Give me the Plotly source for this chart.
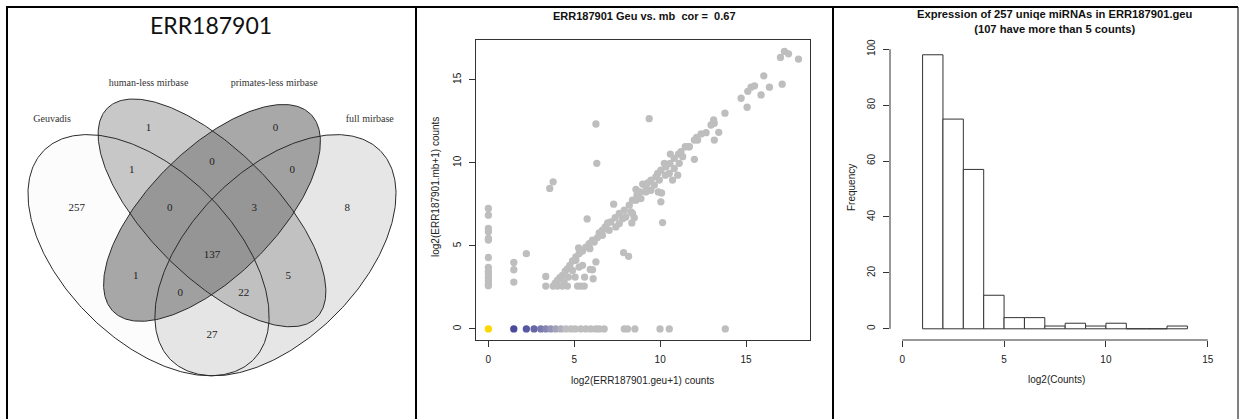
import numpy as np
import plotly.graph_objects as go

W, H = 1239, 419

# ---------------- data ----------------
venn_title = "ERR187901"
venn_sets = ["Geuvadis", "human-less mirbase", "primates-less mirbase", "full mirbase"]
# region counts in VennDiagram quad-layout order
venn_counts = [1, 0, 0, 1, 0, 137, 3, 0, 257, 1, 0, 27, 22, 5, 8]

scatter_title = "ERR187901 Geu vs. mb  cor =  0.67"
geu = [0, 0, 0, 0, 0, 0, 0, 0, 0, 0, 0, 0, 0, 0,
       1.48, 1.48, 1.48, 2.21,
       3.34, 3.34, 3.77, 4.02, 4.31, 4.60, 5.19, 5.38, 5.58,
       3.57, 3.77, 6.26, 6.31, 9.36, 5.75, 7.29, 7.87, 8.16, 6.06, 6.26, 5.60, 5.93, 6.10,
       10.14, 10.04, 9.89, 10.08, 8.49, 8.59, 8.39, 8.35, 10.72, 11.02, 11.99, 13.15, 13.41,
       13.77, 14.71, 15.06, 15.10, 15.29, 15.49, 16.03, 15.87, 16.36, 17.00, 17.23, 17.47,
       18.05, 17.10,
       13.15, 13.11, 12.96, 12.67, 12.38, 12.18, 12.12, 11.64, 11.46, 11.21, 11.07, 10.59,
       10.82, 10.57, 10.24, 10.34, 10.04, 9.85, 9.75, 9.46, 9.27, 8.98, 9.17, 8.82, 8.65,
       8.39, 8.20, 7.91, 7.62, 7.38, 7.13, 6.94, 6.80, 6.64, 6.45, 6.35, 6.06, 5.87, 5.67,
       5.48, 5.28, 5.25, 5.09, 4.90, 4.74, 4.60, 4.47, 4.31, 4.16, 4.02, 3.89,
       5.09, 4.90, 5.05, 5.28, 5.48, 4.66, 4.41, 5.91, 6.16, 6.64, 7.03, 7.42, 7.62, 7.81,
       8.00, 8.30, 8.59, 8.88, 9.17, 9.46, 9.66, 9.95, 10.30, 10.53, 10.82, 11.11, 11.31,
       11.70, 11.99]
mb = [7.25, 6.85, 6.05, 5.85, 5.45, 5.35, 4.30, 3.70, 3.45, 3.30, 3.10, 2.90, 2.70, 2.60,
      4.00, 3.56, 2.82, 4.53,
      3.16, 2.58, 2.58, 2.58, 2.58, 2.58, 2.58, 2.58, 2.58,
      8.46, 8.86, 12.34, 9.97, 12.66, 6.62, 7.51, 4.59, 4.37, 3.56, 4.03, 3.12, 3.58, 3.02,
      6.40, 7.65, 8.25, 8.19, 6.70, 8.40, 6.95, 6.38, 8.96, 9.26, 10.21, 11.37, 11.84,
      12.99, 13.89, 13.35, 14.31, 14.56, 14.64, 15.24, 14.09, 14.56, 16.35, 16.71, 16.57,
      16.25, 14.74,
      12.38, 12.58, 12.28, 11.82, 11.74, 11.37, 11.54, 10.97, 10.97, 10.67, 10.53, 10.53,
      10.27, 9.97, 9.97, 9.76, 9.56, 9.36, 9.16, 8.96, 8.80, 8.72, 8.56, 8.25, 8.05,
      7.75, 7.45, 7.15, 6.95, 6.70, 6.44, 6.38, 6.14, 5.94, 5.78, 5.50, 5.34, 5.13, 4.93,
      4.69, 4.53, 4.87, 4.33, 4.09, 3.83, 3.62, 3.48, 3.22, 3.08, 2.92, 2.76,
      4.13, 3.52, 3.12, 3.72, 3.83, 3.12, 2.82, 4.83, 5.23, 5.64, 5.94, 6.14, 6.34, 6.64,
      6.74, 7.05, 7.75, 7.85, 8.25, 8.35, 8.66, 8.96, 9.26, 9.36, 9.66, 9.97, 10.37,
      10.97, 11.37]
# points with no mb counts (drawn last, with their own colours)
geu_zero = [0, 1.48, 2.21, 2.66, 3.05, 3.34, 3.63, 3.92, 4.22, 4.51, 4.80, 5.05, 5.38,
            5.67, 5.96, 6.26, 6.45, 6.74, 7.91, 8.10, 8.53, 9.99, 10.53, 13.79]
mb_zero = [0, 0, 0, 0, 0, 0, 0, 0, 0, 0, 0, 0, 0, 0, 0, 0, 0, 0, 0, 0, 0, 0, 0, 0]
zero_colors = ["#FFD700", "#4B4B9B", "#5858A2", "#6767A8", "#7878AE", "#8686B2",
               "#9494B6", "#A2A2BA", "#AEAEBC"] + ["#BEBEBE"] * 15
axis_ticks = [0, 5, 10, 15]

hist_title = "Expression of 257 uniqe miRNAs in ERR187901.geu<br>(107 have more than 5 counts)"
hist_breaks = [1, 2, 3, 4, 5, 6, 7, 8, 9, 10, 11, 12, 13, 14]
hist_counts = [98, 75, 57, 12, 4, 4, 1, 2, 1, 2, 0, 0, 1]
hist_yticks = [0, 20, 40, 60, 80, 100]

# ---------------- helpers ----------------
def px(x):
    return x / W

def py(y):
    return 1 - y / H

fig = go.Figure()

# ---------------- Venn panel ----------------
# VennDiagram unit square -> pixels: X = 212 + (u-0.5)*423, Y = 454 - 423*v
S, CX, CY = 423.0, 212.0, 454.0
venn_xr = [0.5 - CX / S, 0.5 + (416 - CX) / S]
venn_yr = [(CY - H) / S, CY / S]

ellipses = [  # cx, cy, a, b, rotation(deg), gray, alpha
    (0.35, 0.47, 0.35, 0.20, 135, 251, 0.7),   # Geuvadis
    (0.65, 0.47, 0.35, 0.20, 45, 219, 0.7),    # full mirbase
    (0.50, 0.57, 0.35, 0.15, 135, 176, 0.7),   # human-less
    (0.50, 0.57, 0.33, 0.15, 45, 131, 0.7),    # primates-less
]
t = np.linspace(0, 2 * np.pi, 361)
outlines = []
for cx, cy, a, b, rot, g, al in ellipses:
    th = np.deg2rad(rot)
    ex = cx + a * np.cos(t) * np.cos(th) - b * np.sin(t) * np.sin(th)
    ey = cy + a * np.cos(t) * np.sin(th) + b * np.sin(t) * np.cos(th)
    outlines.append((ex, ey))
    fig.add_trace(go.Scatter(x=ex, y=ey, mode="lines", fill="toself",
                             fillcolor=f"rgba({g},{g},{g},{al})",
                             line=dict(width=0), hoverinfo="skip",
                             xaxis="x", yaxis="y", showlegend=False))
for ex, ey in outlines:
    fig.add_trace(go.Scatter(x=ex, y=ey, mode="lines",
                             line=dict(color="#2a2a2a", width=1), hoverinfo="skip",
                             xaxis="x", yaxis="y", showlegend=False))

label_pos = [(0.350, 0.77), (0.500, 0.69), (0.650, 0.77), (0.310, 0.67), (0.400, 0.58),
             (0.500, 0.47), (0.600, 0.58), (0.690, 0.67), (0.180, 0.58), (0.320, 0.42),
             (0.425, 0.38), (0.500, 0.28), (0.575, 0.38), (0.680, 0.42), (0.820, 0.58)]
fig.add_trace(go.Scatter(x=[p[0] for p in label_pos], y=[p[1] for p in label_pos],
                         mode="text", text=[str(c) for c in venn_counts],
                         textfont=dict(family="Liberation Serif", size=11, color="#222"),
                         xaxis="x", yaxis="y", showlegend=False, hoverinfo="skip"))
cat_pos = [(0.122, 0.79), (0.350, 0.877), (0.647, 0.877), (0.873, 0.79)]
fig.add_trace(go.Scatter(x=[p[0] for p in cat_pos], y=[p[1] for p in cat_pos],
                         mode="text", text=venn_sets,
                         textfont=dict(family="Liberation Serif", size=10, color="#333"),
                         xaxis="x", yaxis="y", showlegend=False, hoverinfo="skip"))

# ---------------- Scatter panel ----------------
fig.add_trace(go.Scatter(x=geu, y=mb, mode="markers",
                         marker=dict(size=7.3, color="#BEBEBE", line=dict(width=0)),
                         xaxis="x2", yaxis="y2", showlegend=False))
fig.add_trace(go.Scatter(x=geu_zero, y=mb_zero, mode="markers",
                         marker=dict(size=7.3, color=zero_colors, line=dict(width=0)),
                         xaxis="x2", yaxis="y2", showlegend=False))

# ---------------- Histogram panel ----------------
fig.add_trace(go.Bar(x=hist_breaks[:-1], y=hist_counts, width=1, offset=0,
                     marker=dict(color="white", line=dict(color="#333", width=1)),
                     xaxis="x3", yaxis="y3", showlegend=False))

tickfont = dict(family="Liberation Sans", size=10, color="#222")
common = dict(ticks="outside", ticklen=6, tickcolor="#333", tickfont=tickfont,
              showgrid=False, zeroline=False, ticklabelstandoff=4)

fig.update_layout(
    width=W, height=H, margin=dict(l=0, r=0, t=0, b=0),
    paper_bgcolor="white", plot_bgcolor="rgba(0,0,0,0)",
    xaxis=dict(domain=[0, px(416)], range=venn_xr, visible=False, fixedrange=True),
    yaxis=dict(domain=[0, 1], range=venn_yr, visible=False, fixedrange=True),
    xaxis2=dict(domain=[px(476), px(810)], range=[-0.72, 18.72], tickvals=axis_ticks,
                showline=True, mirror=True, linecolor="#333", linewidth=1,
                anchor="y2", **common),
    yaxis2=dict(domain=[py(340), py(40)], range=[-0.67, 17.4], tickvals=axis_ticks,
                tickangle=-90, showline=True, mirror=True, linecolor="#333", linewidth=1,
                anchor="x2", **common),
    xaxis3=dict(domain=[px(890), px(1220)], range=[-0.6, 15.6], tickvals=axis_ticks,
                showline=False, anchor="y3", **common),
    yaxis3=dict(domain=[py(340), py(38)], range=[-4, 104], tickvals=hist_yticks,
                tickangle=-90, showline=False, anchor="x3", **common),
    bargap=0,
)

ann = []
ann.append(dict(x=px(211), y=py(25), text=venn_title, showarrow=False,
                font=dict(family="Lato", size=23, color="#111")))
ann.append(dict(x=px(644), y=py(16), text="<b>" + scatter_title + "</b>", showarrow=False,
                font=dict(family="Liberation Sans", size=11, color="#111")))
ann.append(dict(x=px(642), y=py(380), text="log2(ERR187901.geu+1) counts", showarrow=False,
                font=dict(family="Liberation Sans", size=10, color="#222")))
ann.append(dict(x=px(435), y=py(187), text="log2(ERR187901.mb+1) counts", showarrow=False,
                textangle=-90, font=dict(family="Liberation Sans", size=10, color="#222")))
ann.append(dict(x=px(1055), y=py(21), text="<b>" + hist_title + "</b>", showarrow=False,
                font=dict(family="Liberation Sans", size=11.2, color="#111")))
ann.append(dict(x=px(1056), y=py(379), text="log2(Counts)", showarrow=False,
                font=dict(family="Liberation Sans", size=10, color="#222")))
ann.append(dict(x=px(851), y=py(187), text="Frequency", showarrow=False, textangle=-90,
                font=dict(family="Liberation Sans", size=10, color="#222")))
for a in ann:
    a.update(xref="paper", yref="paper", xanchor="center", yanchor="middle")
fig.update_layout(annotations=ann)

shapes = []
# histogram axis lines spanning the tick range (R style)
shapes.append(dict(type="line", xref="x3", yref="y3 domain", x0=axis_ticks[0], x1=axis_ticks[-1],
                   y0=0, y1=0, line=dict(color="#333", width=1)))
shapes.append(dict(type="line", xref="x3 domain", yref="y3", x0=0, x1=0,
                   y0=hist_yticks[0], y1=hist_yticks[-1], line=dict(color="#333", width=1)))
# panel borders
black = dict(color="black", width=2)
shapes.append(dict(type="line", xref="paper", yref="paper", x0=px(6), x1=px(1238),
                   y0=py(7), y1=py(7), line=black))
for xb in (7, 416, 833):
    shapes.append(dict(type="line", xref="paper", yref="paper", x0=px(xb), x1=px(xb),
                       y0=py(7), y1=0, line=black))
shapes.append(dict(type="line", xref="paper", yref="paper", x0=px(1238), x1=px(1238),
                   y0=py(7), y1=0, line=dict(color="black", width=1)))
fig.update_layout(shapes=shapes)

fig.write_html("out.html", config={"displayModeBar": False, "staticPlot": True},
               post_script="document.body.style.margin='0px';document.body.style.overflow='hidden';")
